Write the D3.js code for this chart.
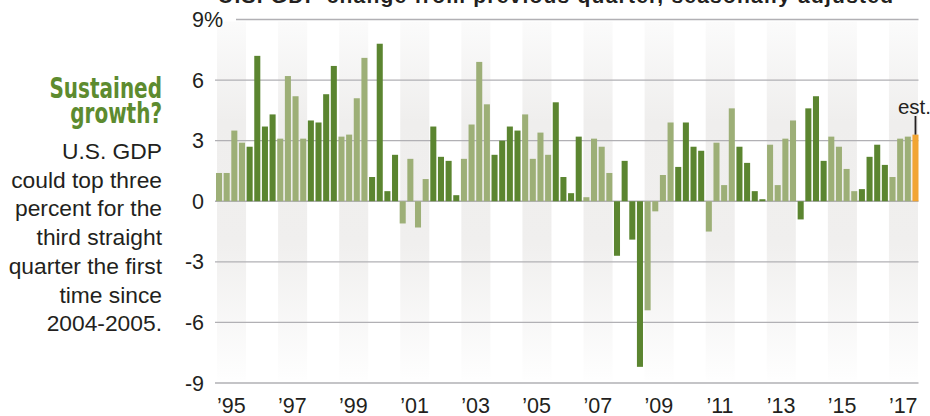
<!DOCTYPE html>
<html>
<head>
<meta charset="utf-8">
<script src="https://cdn.jsdelivr.net/npm/d3@7"></script>
<style>
  body { margin: 0; background: #fff; }
  svg { display: block; }
</style>
</head>
<body>
<div id="grafico"></div>
<script>
// anos do grafico (cada um com 4 trimestres)
const years = d3.range(1995, 2018);

// variacao do PIB, trimestre a trimestre (1995 T1 ... 2017 T4)
const gdp = [
  1.4, 1.4, 3.5, 2.9,   // 1995
  2.7, 7.2, 3.7, 4.3,   // 1996
  3.1, 6.2, 5.2, 3.1,   // 1997
  4.0, 3.9, 5.3, 6.7,   // 1998
  3.2, 3.3, 5.1, 7.1,   // 1999
  1.2, 7.8, 0.5, 2.3,   // 2000
  -1.1, 2.1, -1.3, 1.1, // 2001
  3.7, 2.2, 2.0, 0.3,   // 2002
  2.1, 3.8, 6.9, 4.8,   // 2003
  2.3, 3.0, 3.7, 3.5,   // 2004
  4.3, 2.1, 3.4, 2.3,   // 2005
  4.9, 1.2, 0.4, 3.2,   // 2006
  0.2, 3.1, 2.7, 1.4,   // 2007
  -2.7, 2.0, -1.9, -8.2,// 2008
  -5.4, -0.5, 1.3, 3.9, // 2009
  1.7, 3.9, 2.7, 2.5,   // 2010
  -1.5, 2.9, 0.8, 4.6,  // 2011
  2.7, 1.9, 0.5, 0.1,   // 2012
  2.8, 0.8, 3.1, 4.0,   // 2013
  -0.9, 4.6, 5.2, 2.0,  // 2014
  3.2, 2.7, 1.6, 0.5,   // 2015
  0.6, 2.2, 2.8, 1.8,   // 2016
  1.2, 3.1, 3.2, 3.3    // 2017 (ultimo = estimativa)
];

const yTicks = [9, 6, 3, 0, -3, -6, -9];
const xLabels = ["’95", "’97", "’99", "’01", "’03", "’05", "’07", "’09", "’11", "’13", "’15", "’17"];
const labelYears = years.filter(a => a % 2 === 1);

const titulo = "U.S. GDP change from previous quarter, seasonally adjusted";
const chamada = ["Sustained", "growth?"];
const texto = ["U.S. GDP", "could top three", "percent for the", "third straight",
               "quarter the first", "time since", "2004-2005."];

const largura = 930, altura = 416;
const escuro = "#5b8530", claro = "#9daf77", laranja = "#f2a533";
const fonte = "'Liberation Sans', Arial, sans-serif";

const svg = d3.select('#grafico').append('svg')
  .attr('width', largura)
  .attr('height', altura);

const x0 = 216, x1 = 918.5;

const xAno = d3.scaleBand().domain(years).range([x0, x1]).padding(0);
const xTri = d3.scaleBand().domain(d3.range(gdp.length)).range([x0, x1])
  .paddingInner(0.21).paddingOuter(0).align(0);
const y = d3.scaleLinear().domain([-9, 9]).range([383, 19.5]);

// degrade das faixas dos anos impares
const grad = svg.append('defs').append('linearGradient')
  .attr('id', 'faixa').attr('x1', 0).attr('y1', 0).attr('x2', 0).attr('y2', 1);
grad.append('stop').attr('offset', 0).attr('stop-color', '#fbfbfb');
grad.append('stop').attr('offset', 0.28).attr('stop-color', '#efeeed');
grad.append('stop').attr('offset', 0.62).attr('stop-color', '#f0efee');
grad.append('stop').attr('offset', 1).attr('stop-color', '#fefefe');

svg.append('g').selectAll('rect')
  .data(labelYears)
  .join('rect')
  .attr('x', d => xAno(d) + 1)
  .attr('width', xAno.bandwidth() - 1.5)
  .attr('y', y(9) + 2)
  .attr('height', y(-9) - y(9) - 5)
  .attr('fill', 'url(#faixa)');

// linhas de grade
svg.append('g').selectAll('line')
  .data(yTicks)
  .join('line')
  .attr('x1', d => d === 9 ? 236 : 215)
  .attr('x2', x1)
  .attr('y1', d => y(d)).attr('y2', d => y(d))
  .attr('stroke', '#b1b0b4')
  .attr('stroke-width', 1.4);

// rotulos do eixo y
svg.append('g').selectAll('text')
  .data(yTicks)
  .join('text')
  .attr('x', 204)
  .attr('y', d => y(d) + 7.5)
  .attr('text-anchor', 'end')
  .attr('font-family', fonte)
  .attr('font-size', 21.5)
  .attr('fill', '#231f20')
  .text(d => d);
svg.append('text')
  .attr('x', 204).attr('y', y(9) + 7.5)
  .attr('font-family', fonte).attr('font-size', 21.5).attr('fill', '#231f20')
  .text('%');

// barras
svg.append('g').selectAll('rect')
  .data(gdp)
  .join('rect')
  .attr('x', (d, i) => xTri(i))
  .attr('width', xTri.bandwidth())
  .attr('y', d => Math.min(y(d), y(0)))
  .attr('height', d => Math.abs(y(d) - y(0)))
  .attr('fill', (d, i) => {
    if (i === gdp.length - 1) return laranja;
    return Math.floor(i / 4) % 2 === 0 ? claro : escuro;
  });

// rotulos do eixo x
svg.append('g').selectAll('text')
  .data(labelYears)
  .join('text')
  .attr('x', d => xAno(d) + xAno.bandwidth() / 2)
  .attr('y', 413)
  .attr('text-anchor', 'middle')
  .attr('font-family', fonte)
  .attr('font-size', 21.5)
  .attr('fill', '#231f20')
  .text((d, i) => xLabels[i]);

// marcador "est."
const ult = gdp.length - 1;
const xu = xTri(ult) + xTri.bandwidth() / 2;
svg.append('line')
  .attr('x1', xu).attr('x2', xu)
  .attr('y1', 116).attr('y2', y(gdp[ult]))
  .attr('stroke', '#231f20').attr('stroke-width', 1.8);
svg.append('text')
  .attr('x', xu - 1).attr('y', 114)
  .attr('text-anchor', 'middle')
  .attr('font-family', fonte).attr('font-size', 20.5).attr('fill', '#231f20')
  .text('est.');

// titulo (cortado no topo, como no original)
svg.append('text')
  .attr('x', 218).attr('y', 3)
  .attr('font-family', fonte).attr('font-size', 21).attr('font-weight', 'bold')
  .attr('textLength', 675).attr('lengthAdjust', 'spacing')
  .attr('fill', '#231f20')
  .text(titulo);

// chamada verde, comprimida na horizontal
const gChamada = svg.append('g')
  .attr('transform', 'translate(162,0) scale(0.78,1)');
gChamada.selectAll('text')
  .data(chamada)
  .join('text')
  .attr('x', 0)
  .attr('y', (d, i) => 98 + i * 25)
  .attr('text-anchor', 'end')
  .attr('font-family', "'DejaVu Sans Condensed', 'DejaVu Sans', sans-serif")
  .attr('font-size', 28.5)
  .attr('font-weight', 'bold')
  .attr('fill', '#5d8b2f')
  .text(d => d);

// texto explicativo
svg.append('g').selectAll('text')
  .data(texto)
  .join('text')
  .attr('x', 162)
  .attr('y', (d, i) => 159 + i * 28.7)
  .attr('text-anchor', 'end')
  .attr('font-family', fonte)
  .attr('font-size', 22.8)
  .attr('fill', '#231f20')
  .text(d => d);
</script>
</body>
</html>
